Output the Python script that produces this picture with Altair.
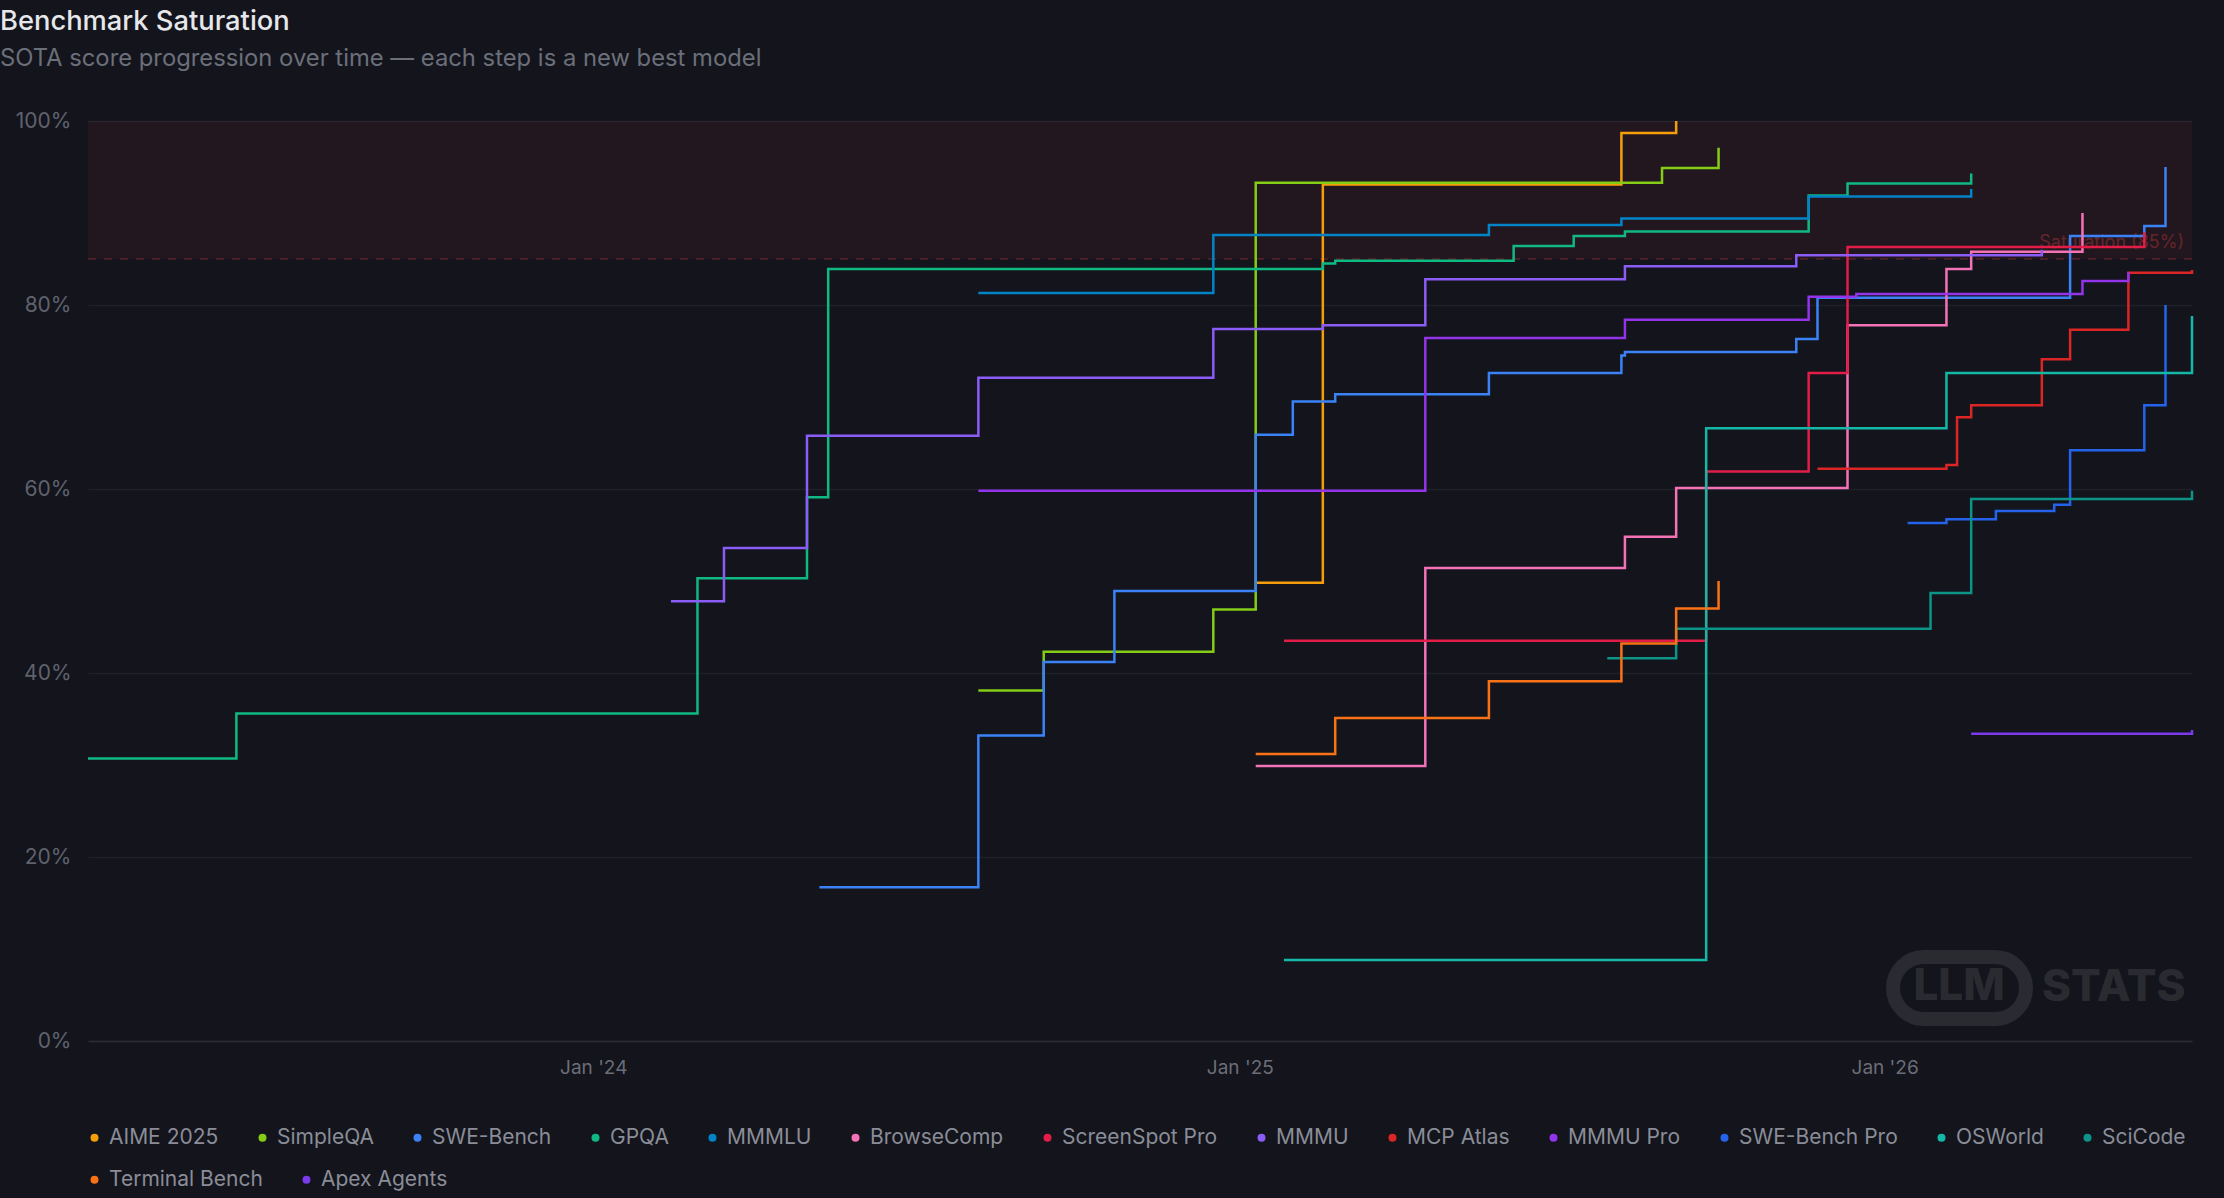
import altair as alt
import pandas as pd

# Benchmarks, legend order and colours
SERIES = ["AIME 2025", "SimpleQA", "SWE-Bench", "GPQA", "MMMLU", "BrowseComp",
          "ScreenSpot Pro", "MMMU", "MCP Atlas", "MMMU Pro", "SWE-Bench Pro",
          "OSWorld", "SciCode", "Terminal Bench", "Apex Agents"]
COLORS = ["#f59e0b", "#84cc16", "#3b82f6", "#10b981", "#0284c7", "#f472b6",
          "#e11d48", "#8b5cf6", "#dc2626", "#9333ea", "#2563eb",
          "#14b8a6", "#0d9488", "#f97316", "#7c3aed"]
LEGEND_ROW_1 = 13  # entries on the first legend line

# SOTA steps: release date of each new best model and its score (%)
AIME_DATES = ["2025-01-10", "2025-02-17", "2025-08-05", "2025-09-05"]
AIME_SCORES = [49.8, 93.1, 98.7, 100.0]

SIMPLEQA_DATES = ["2024-08-06", "2024-09-12", "2024-12-17", "2025-01-10", "2025-08-28", "2025-09-29"]
SIMPLEQA_SCORES = [38.1, 42.3, 46.9, 93.3, 94.9, 97.1]

SWE_DATES = ["2024-05-08", "2024-08-06", "2024-09-12", "2024-10-22", "2025-01-10", "2025-01-31",
             "2025-02-24", "2025-05-22", "2025-08-05", "2025-08-07", "2025-11-12", "2025-11-24",
             "2026-04-16", "2026-05-28", "2026-06-09"]
SWE_SCORES = [16.7, 33.2, 41.2, 48.9, 65.9, 69.5, 70.3, 72.6, 74.5, 74.9, 76.3, 80.8, 87.5, 88.6, 95.0]

GPQA_DATES = ["2023-03-21", "2023-06-13", "2024-02-29", "2024-05-01", "2024-05-13", "2025-02-17",
              "2025-02-24", "2025-06-05", "2025-07-09", "2025-08-07", "2025-11-19", "2025-12-11",
              "2026-02-19"]
GPQA_SCORES = [30.7, 35.6, 50.3, 59.1, 83.9, 84.5, 84.8, 86.4, 87.5, 88.0, 91.9, 93.2, 94.3]

MMMLU_DATES = ["2024-08-06", "2024-12-17", "2025-05-22", "2025-08-05", "2025-11-19", "2026-02-19"]
MMMLU_SCORES = [81.3, 87.6, 88.7, 89.4, 91.8, 92.6]

BROWSE_DATES = ["2025-01-10", "2025-04-16", "2025-08-07", "2025-09-05", "2025-12-11", "2026-02-05",
                "2026-02-19", "2026-04-23"]
BROWSE_SCORES = [29.9, 51.4, 54.8, 60.1, 77.8, 83.9, 85.8, 90.0]

SCREENSPOT_DATES = ["2025-01-26", "2025-09-22", "2025-11-19", "2025-12-11", "2026-05-28"]
SCREENSPOT_SCORES = [43.5, 61.9, 72.6, 86.3, 87.9]

MMMU_DATES = ["2024-02-14", "2024-03-15", "2024-05-01", "2024-08-06", "2024-12-17", "2025-02-17",
              "2025-04-16", "2025-08-07", "2025-11-12", "2026-03-31"]
MMMU_SCORES = [47.8, 53.6, 65.8, 72.1, 77.4, 77.8, 82.8, 84.2, 85.4, 86.0]

MCP_DATES = ["2025-11-24", "2026-02-05", "2026-02-11", "2026-02-19", "2026-03-31", "2026-04-16",
             "2026-05-19", "2026-06-24"]
MCP_SCORES = [62.2, 62.6, 67.8, 69.1, 74.1, 77.3, 83.5, 83.8]

MMMU_PRO_DATES = ["2024-08-06", "2025-04-16", "2025-08-07", "2025-11-19", "2025-12-16", "2026-04-23",
                  "2026-05-19"]
MMMU_PRO_SCORES = [59.8, 76.4, 78.4, 80.9, 81.2, 82.6, 83.6]

SWE_PRO_DATES = ["2026-01-14", "2026-02-05", "2026-03-05", "2026-04-07", "2026-04-16", "2026-05-28",
                 "2026-06-09"]
SWE_PRO_SCORES = [56.3, 56.7, 57.6, 58.3, 64.2, 69.1, 80.0]

OSWORLD_DATES = ["2025-01-26", "2025-09-22", "2026-02-05", "2026-06-24"]
OSWORLD_SCORES = [8.8, 66.6, 72.6, 78.8]

SCICODE_DATES = ["2025-07-28", "2025-09-05", "2026-01-27", "2026-02-19", "2026-06-24"]
SCICODE_SCORES = [41.6, 44.8, 48.7, 58.9, 59.8]

TERMINAL_DATES = ["2025-01-10", "2025-02-24", "2025-05-22", "2025-08-05", "2025-09-05", "2025-09-29"]
TERMINAL_SCORES = [31.2, 35.1, 39.1, 43.2, 47.0, 50.0]

APEX_DATES = ["2026-02-19", "2026-06-24"]
APEX_SCORES = [33.4, 33.8]

# Axes
X_START = "2023-03-21"
X_END = "2026-06-24"
X_TICKS = ["2024-01-01", "2025-01-01", "2026-01-01"]
Y_TICKS = [0, 20, 40, 60, 80, 100]

# Saturation zone
SAT_LOW = 85
SAT_HIGH = 100
SAT_LABEL = "Saturation (85%)"

W, H = 2104, 920
FONT = "Inter"


def utc_date(s):
    y, m, d = (int(p) for p in s.split("-"))
    return alt.DateTime(year=y, month=m, date=d, utc=True)


columns = [
    (AIME_DATES, AIME_SCORES), (SIMPLEQA_DATES, SIMPLEQA_SCORES), (SWE_DATES, SWE_SCORES),
    (GPQA_DATES, GPQA_SCORES), (MMMLU_DATES, MMMLU_SCORES), (BROWSE_DATES, BROWSE_SCORES),
    (SCREENSPOT_DATES, SCREENSPOT_SCORES), (MMMU_DATES, MMMU_SCORES), (MCP_DATES, MCP_SCORES),
    (MMMU_PRO_DATES, MMMU_PRO_SCORES), (SWE_PRO_DATES, SWE_PRO_SCORES),
    (OSWORLD_DATES, OSWORLD_SCORES), (SCICODE_DATES, SCICODE_SCORES),
    (TERMINAL_DATES, TERMINAL_SCORES), (APEX_DATES, APEX_SCORES),
]
rows = []
for name, (dates, scores) in zip(SERIES, columns):
    for d, s in zip(dates, scores):
        rows.append({"benchmark": name, "date": d, "score": s})
df = pd.DataFrame(rows)

band_df = pd.DataFrame({"lo": [SAT_LOW], "hi": [SAT_HIGH], "label": [SAT_LABEL]})

x_enc = alt.X(
    "date:T",
    title=None,
    scale=alt.Scale(type="utc", domain=[utc_date(X_START), utc_date(X_END)]),
    axis=alt.Axis(
        values=[utc_date(t) for t in X_TICKS],
        labelExpr="utcFormat(datum.value, \"%b '%y\")",
        grid=False, ticks=False, domain=True, domainColor="#2b2c34", domainWidth=1.5,
        labelColor="#6b6e78", labelFontSize=19, labelPadding=17, labelFont=FONT,
    ),
)
y_enc = alt.Y(
    "score:Q",
    title=None,
    scale=alt.Scale(domain=[0, 100], nice=False),
    axis=alt.Axis(
        values=Y_TICKS, labelExpr="datum.value + '%'",
        grid=True, gridColor="#1f2029", gridWidth=1.5, ticks=False, domain=False,
        labelColor="#5f626d", labelFontSize=21, labelPadding=17, labelFont=FONT,
    ),
)

legend_style = dict(
    title=None, orient="none", legendX=-4, direction="horizontal",
    symbolType="circle", symbolSize=64, symbolOpacity=1, symbolStrokeWidth=0,
    labelFontSize=21, labelFont=FONT, labelColor="#8a8d97",
    labelOffset=4, columnPadding=33, labelLimit=400, padding=0,
)
color_scale = alt.Scale(domain=SERIES, range=COLORS)
legend_1 = alt.Legend(legendY=1006, values=SERIES[:LEGEND_ROW_1], columns=LEGEND_ROW_1, **legend_style)
legend_2 = alt.Legend(legendY=1048, columns=len(SERIES) - LEGEND_ROW_1, **legend_style)

band = alt.Chart(band_df).mark_rect(color="#ef4444", opacity=0.07).encode(
    y=alt.Y("lo:Q"), y2="hi:Q", x=alt.value(0), x2=alt.value("width")
)
sat_rule = alt.Chart(band_df).mark_rule(
    color="#ef4444", opacity=0.28, strokeDash=[8, 8], strokeWidth=1.5
).encode(y="lo:Q")
sat_text = alt.Chart(band_df).mark_text(
    align="right", baseline="bottom", dy=-7, fontSize=18, font=FONT,
    color="#ef4444", opacity=0.32,
).encode(y="lo:Q", x=alt.value(W - 8), text="label:N")

# LLM STATS watermark
wm_df = pd.DataFrame({"a": ["LLM"], "b": ["STATS"]})
wm_pill = alt.Chart(wm_df).mark_rect(
    fillOpacity=0, stroke="#2a2b31", strokeWidth=14, cornerRadius=31
).encode(x=alt.value(1805), x2=alt.value(1938), y=alt.value(836), y2=alt.value(898))
wm_llm = alt.Chart(wm_df).mark_text(
    font=FONT, fontSize=44, fontWeight=800, color="#2a2b31", baseline="middle", align="center"
).encode(x=alt.value(1871), y=alt.value(866), text="a:N")
wm_stats = alt.Chart(wm_df).mark_text(
    font=FONT, fontSize=44, fontWeight=800, color="#2a2b31", baseline="middle", align="left"
).encode(x=alt.value(1954), y=alt.value(867), text="b:N")

# filled dots for the legend keys (no visible marks: rows are filtered out)
keys_1 = alt.Chart(df).transform_filter("false").mark_circle(opacity=1).encode(
    x=alt.X("date:T", scale=alt.Scale(type="utc")),
    y=alt.Y("score:Q"),
    color=alt.Color("benchmark:N", scale=color_scale, legend=legend_1),
)
keys_2 = alt.Chart(df).transform_filter("false").mark_circle(opacity=1).encode(
    x=alt.X("date:T", scale=alt.Scale(type="utc")),
    y=alt.Y("score:Q"),
    fill=alt.Fill(
        "benchmark:N",
        scale=alt.Scale(domain=SERIES[LEGEND_ROW_1:], range=COLORS[LEGEND_ROW_1:]),
        legend=legend_2,
    ),
)

lines = alt.Chart(df).mark_line(interpolate="step-after", strokeWidth=2.5).encode(
    x=x_enc,
    y=y_enc,
    color=alt.Color("benchmark:N", scale=color_scale, legend=legend_1),
)

chart = alt.layer(
    keys_1, keys_2, band, sat_rule, sat_text, wm_pill, wm_llm, wm_stats, lines
).properties(
    width=W,
    height=H,
    autosize=alt.AutoSizeParams(type="none"),
    padding={"left": 88, "top": 121, "right": 32, "bottom": 157},
    title=alt.Title(
        "Benchmark Saturation",
        subtitle="SOTA score progression over time — each step is a new best model",
        anchor="start", frame="group", dx=-88, offset=39,
        font=FONT, fontSize=27.3, fontWeight=500, color="#e6e7ea",
        subtitleFont=FONT, subtitleFontSize=23.8, subtitleColor="#6b6f7a", subtitlePadding=12,
    ),
).configure(background="#13141c").configure_view(stroke=None)

chart.save("out.html", embed_options={"renderer": "svg", "actions": False})
